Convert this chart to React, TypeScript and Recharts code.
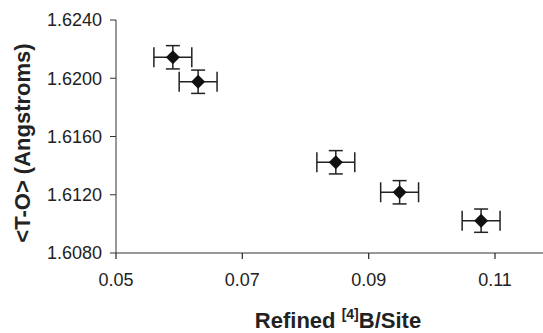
import { ScatterChart, Scatter, XAxis, YAxis, ErrorBar } from 'recharts';

// refined [4]B per site vs mean <T-O>
const boronSite = [0.059, 0.063, 0.0848, 0.0949, 0.1078];
const meanTO = [1.62144, 1.61976, 1.61423, 1.61217, 1.61022];
const boronErr = [0.003, 0.003, 0.003, 0.003, 0.003];
const toErr = [0.0008, 0.0008, 0.0008, 0.0008, 0.0008];

const xTicks = [0.05, 0.07, 0.09, 0.11];
const yTicks = [1.608, 1.612, 1.616, 1.62, 1.624];

const data = boronSite.map((b, i) => ({
  b,
  to: meanTO[i],
  bErr: boronErr[i],
  toErr: toErr[i],
}));

const FONT = '"Liberation Sans", Arial, sans-serif';

function Diamond(props: any) {
  const { cx, cy } = props;
  const r = 7;
  return (
    <polygon
      points={`${cx},${cy - r} ${cx + r},${cy} ${cx},${cy + r} ${cx - r},${cy}`}
      fill="#111"
    />
  );
}

export default function App() {
  return (
    <div style={{ position: 'absolute', left: 0, top: 0, width: 543, height: 333, background: '#fff' }}>
      <ScatterChart width={543} height={333} margin={{ top: 20, right: 0, left: 0, bottom: 0 }}>
        <XAxis
          type="number"
          dataKey="b"
          domain={[0.05, 0.1176]}
          ticks={xTicks}
          allowDataOverflow
          height={80}
          tickFormatter={(v: number) => String(Number(v.toFixed(2)))}
          tick={{ fill: '#222', fontSize: 18, fontFamily: FONT }}
          tickSize={6}
          tickMargin={14}
          stroke="#777"
          strokeWidth={1.3}
          tickLine={{ stroke: '#333' }}
        />
        <YAxis
          type="number"
          dataKey="to"
          domain={[1.608, 1.624]}
          ticks={yTicks}
          allowDataOverflow
          width={116}
          tickFormatter={(v: number) => v.toFixed(4)}
          tick={{ fill: '#222', fontSize: 18, fontFamily: FONT }}
          tickSize={6}
          tickMargin={8}
          stroke="#333"
        />
        <Scatter data={data} shape={<Diamond />} isAnimationActive={false}>
          <ErrorBar dataKey="bErr" direction="x" width={10} stroke="#222" strokeWidth={1.5} />
          <ErrorBar dataKey="toErr" direction="y" width={7} stroke="#222" strokeWidth={1.5} />
        </Scatter>
      </ScatterChart>
      <svg
        width={543}
        height={333}
        style={{ position: 'absolute', left: 0, top: 0, pointerEvents: 'none' }}
      >
        <text
          transform="translate(30,143) rotate(-90)"
          textAnchor="middle"
          fontFamily={FONT}
          fontWeight="bold"
          fontSize={22}
          fill="#222"
        >
          {'<T-O> (Angstroms)'}
        </text>
        <text
          x={338}
          y={328}
          textAnchor="middle"
          fontFamily={FONT}
          fontWeight="bold"
          fontSize={22}
          fill="#222"
        >
          Refined{' '}
          <tspan fontSize={14} dy={-9}>
            [4]
          </tspan>
          <tspan dy={9}>B/Site</tspan>
        </text>
      </svg>
    </div>
  );
}
